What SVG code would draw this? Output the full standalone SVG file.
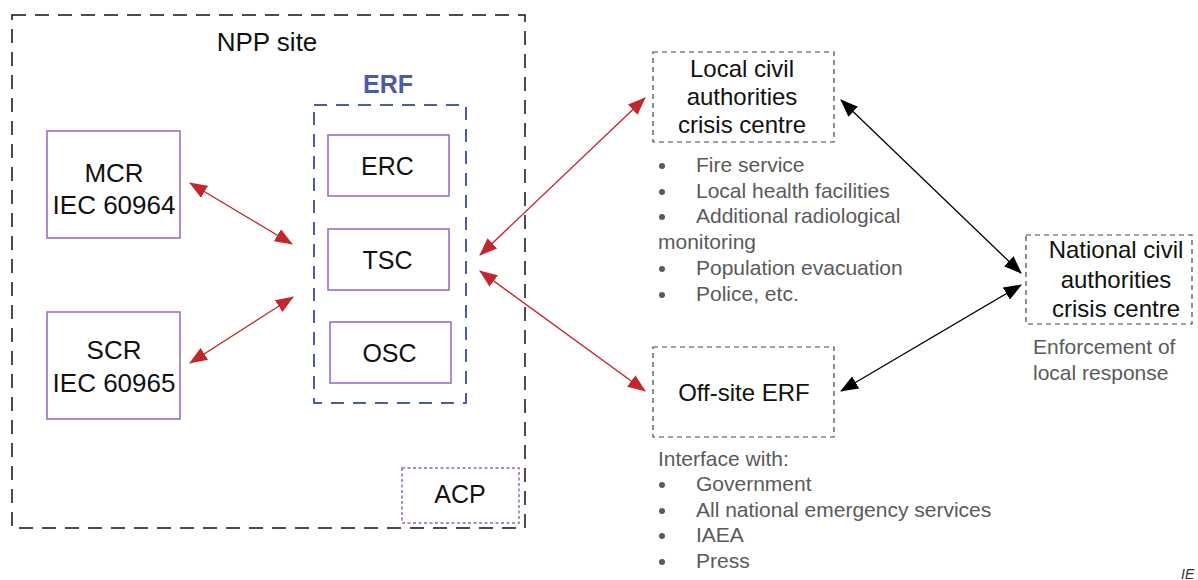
<svg xmlns="http://www.w3.org/2000/svg" width="1198" height="580" viewBox="0 0 1198 580">
<defs>
<marker id="ar" viewBox="0 0 18 14" refX="17" refY="7" markerWidth="18" markerHeight="14" markerUnits="userSpaceOnUse" orient="auto-start-reverse"><path d="M0,0 L18,7 L0,14 z" fill="#c1272d"/></marker>
<marker id="ab" viewBox="0 0 18 14" refX="17" refY="7" markerWidth="18" markerHeight="14" markerUnits="userSpaceOnUse" orient="auto-start-reverse"><path d="M0,0 L18,7 L0,14 z" fill="#000"/></marker>
</defs>
<style>
.t{font-family:"Liberation Sans",Arial,sans-serif;fill:#111;}
.big{font-size:25px;text-anchor:middle;}
.xl{font-size:26px;text-anchor:middle;}
.mid{font-size:24px;text-anchor:middle;}
.g{font-family:"Liberation Sans",Arial,sans-serif;font-size:21px;fill:#5a5a5a;}
.node{fill:#fff;stroke:#9466c0;stroke-width:1.5;}
.dsh{fill:none;stroke:#444;stroke-width:1.2;stroke-dasharray:5 4;}
.red{stroke:#c1272d;stroke-width:1.4;fill:none;marker-start:url(#ar);marker-end:url(#ar);}
.blk{stroke:#000;stroke-width:1.3;fill:none;marker-start:url(#ab);marker-end:url(#ab);}
.dot{fill:#5a5a5a;}
</style>
<rect width="1198" height="580" fill="#fff"/>

<g id="npp-site">
<rect x="12" y="15" width="513" height="513" fill="none" stroke="#111" stroke-width="1.5" stroke-dasharray="14 9"/>
<text class="t xl" x="267" y="51">NPP site</text>
</g>

<g id="erf">
<rect x="314" y="105" width="152" height="298" fill="none" stroke="#4a5ba8" stroke-width="2" stroke-dasharray="13 9"/>
<text x="388" y="93" text-anchor="middle" font-family="Liberation Sans,Arial,sans-serif" font-size="25" font-weight="bold" fill="#4a5ba8">ERF</text>
</g>

<g id="erc"><rect class="node" x="328" y="135" width="121" height="61"/><text class="t big" x="387.5" y="175">ERC</text></g>
<g id="tsc"><rect class="node" x="328" y="229" width="121" height="61"/><text class="t big" x="387.5" y="269">TSC</text></g>
<g id="osc"><rect class="node" x="330" y="322" width="121" height="61"/><text class="t big" x="389.5" y="362">OSC</text></g>

<g id="mcr"><rect class="node" x="47" y="131" width="133" height="107"/><text class="t xl" x="114" y="182">MCR</text><text class="t xl" x="114" y="214">IEC 60964</text></g>
<g id="scr"><rect class="node" x="47" y="312" width="133" height="107"/><text class="t xl" x="114" y="359">SCR</text><text class="t xl" x="114" y="392">IEC 60965</text></g>

<g id="acp"><rect x="402" y="468" width="117" height="55" fill="none" stroke="#9466c0" stroke-width="1.5" stroke-dasharray="3 2.5"/><text class="t big" x="460" y="503">ACP</text></g>

<g id="local">
<rect class="dsh" x="653" y="52" width="181" height="90"/>
<text class="t mid" x="742" y="77">Local civil</text>
<text class="t mid" x="742" y="105">authorities</text>
<text class="t mid" x="742" y="133">crisis centre</text>
<circle class="dot" cx="662" cy="166" r="3"/><text class="g" x="696" y="172">Fire service</text>
<circle class="dot" cx="662" cy="192" r="3"/><text class="g" x="696" y="198">Local health facilities</text>
<circle class="dot" cx="662" cy="217" r="3"/><text class="g" x="696" y="223">Additional radiological</text>
<text class="g" x="658" y="249">monitoring</text>
<circle class="dot" cx="662" cy="269" r="3"/><text class="g" x="696" y="275">Population evacuation</text>
<circle class="dot" cx="662" cy="295" r="3"/><text class="g" x="696" y="301">Police, etc.</text>
</g>

<g id="offsite">
<rect class="dsh" x="653" y="347" width="181" height="90"/>
<text class="t mid" x="744" y="401">Off-site ERF</text>
<text class="g" x="658" y="466">Interface with:</text>
<circle class="dot" cx="662" cy="485" r="3"/><text class="g" x="696" y="491">Government</text>
<circle class="dot" cx="662" cy="511" r="3"/><text class="g" x="696" y="517">All national emergency services</text>
<circle class="dot" cx="662" cy="536" r="3"/><text class="g" x="696" y="542">IAEA</text>
<circle class="dot" cx="662" cy="562" r="3"/><text class="g" x="696" y="568">Press</text>
</g>

<g id="national">
<rect class="dsh" x="1026" y="235" width="166" height="89"/>
<text class="t mid" x="1116" y="258">National civil</text>
<text class="t mid" x="1116" y="288">authorities</text>
<text class="t mid" x="1116" y="317">crisis centre</text>
<text class="g" x="1033" y="354">Enforcement of</text>
<text class="g" x="1033" y="380">local response</text>
</g>

<g id="connectors">
<line class="red" x1="190" y1="183" x2="292" y2="244"/>
<line class="red" x1="190" y1="363" x2="293" y2="297"/>
<line class="red" x1="480" y1="255" x2="645" y2="98"/>
<line class="red" x1="480" y1="271" x2="645" y2="391"/>
<line class="blk" x1="841" y1="100" x2="1021" y2="273"/>
<line class="blk" x1="841" y1="391" x2="1021" y2="285"/>
</g>

<text x="1181" y="579" font-family="Liberation Sans,Arial,sans-serif" font-size="14" font-style="italic" fill="#333">IE</text>
</svg>
